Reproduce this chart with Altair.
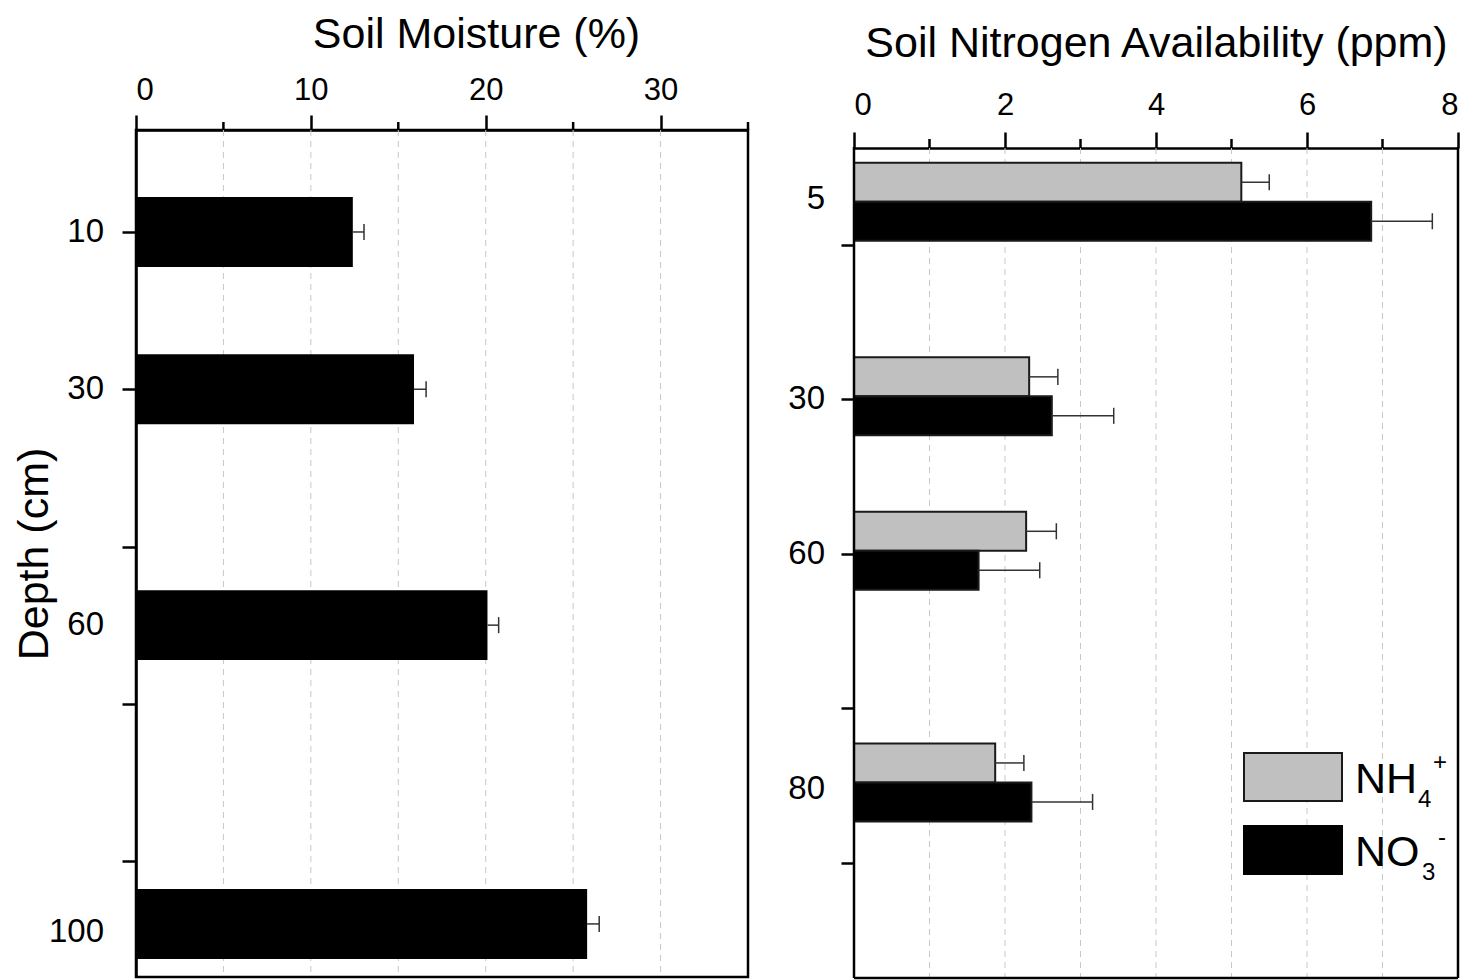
import altair as alt
import pandas as pd

FONT = "Liberation Sans"

# ---------------- Left panel: soil moisture ----------------
moist_labels = ["10", "30", "60", "100"]
moist_pos = [10, 30, 60, 98]          # bar centre on the depth axis
moist_label_pos = [10, 30, 60, 99]    # label centre on the depth axis
moist_mean = [12.4, 15.9, 20.1, 25.8]
moist_se = [0.64, 0.69, 0.64, 0.69]
moist_ticks = [10, 30, 50, 70, 90]
moist_x_major = [0, 10, 20, 30]
moist_x_minor = [5, 15, 25, 35]
moist_grid = [5, 10, 15, 20, 25, 30]

# ---------------- Right panel: soil nitrogen ----------------
n_labels = ["5", "30", "60", "80"]
n_group_pos = [0.72, 1.98, 2.98, 4.48]
n_label_pos = [0.70, 2.00, 3.00, 4.52]
nh4_mean = [5.13, 2.32, 2.28, 1.87]
nh4_se = [0.37, 0.38, 0.40, 0.38]
no3_mean = [6.85, 2.62, 1.65, 2.35]
no3_se = [0.81, 0.82, 0.81, 0.81]
n_ticks = [1, 2, 3, 4, 5]
n_x_major = [0, 2, 4, 6, 8]
n_x_minor = [1, 3, 5, 7]
n_grid = [1, 2, 3, 4, 5, 6, 7]

species = ["NH4", "NO3"]
species_colors = ["#c0c0c0", "#000000"]

# half thickness of bars / caps (in axis units)
L_HALF = 4.45
L_CAP = 1.02
R_BAR = 0.2524
R_CAP = 0.052

left_df = pd.DataFrame({
    "label": moist_labels, "pos": moist_pos, "mean": moist_mean, "se": moist_se,
})
left_df["y0"] = left_df["pos"] - L_HALF
left_df["y1"] = left_df["pos"] + L_HALF
left_df["hi"] = left_df["mean"] + left_df["se"]
left_df["c0"] = left_df["pos"] - L_CAP
left_df["c1"] = left_df["pos"] + L_CAP
left_df["zero"] = 0.0
left_lab = pd.DataFrame({"label": moist_labels, "pos": moist_label_pos})

rows = []
for i, lab in enumerate(n_labels):
    for sp, m, s, sign in (("NH4", nh4_mean[i], nh4_se[i], -1), ("NO3", no3_mean[i], no3_se[i], 1)):
        p = n_group_pos[i]
        y0 = p if sign > 0 else p - R_BAR
        y1 = p + R_BAR if sign > 0 else p
        mid = (y0 + y1) / 2
        rows.append({"label": lab, "species": sp, "mean": m, "se": s, "hi": m + s,
                     "y0": y0, "y1": y1, "mid": mid, "c0": mid - R_CAP, "c1": mid + R_CAP,
                     "zero": 0.0})
right_df = pd.DataFrame(rows)
right_lab = pd.DataFrame({"label": n_labels, "pos": n_label_pos})

AX = dict(labelFont=FONT, titleFont=FONT, labelColor="black", titleColor="black",
          tickColor="black", domainColor="black", domainWidth=2.5, tickWidth=2.5,
          grid=False, titleFontWeight="normal")

# ---------- left panel ----------
LW, LH = 612, 847
lx = alt.Scale(domain=[0, 35], nice=False, zero=False)
ly = alt.Scale(domain=[-2.97, 104.75], nice=False, zero=False, reverse=True)
lx_axis = alt.Axis(orient="top", values=moist_x_major, title="Soil Moisture (%)",
                   titleFontSize=43, titlePadding=18, titleX=340, titleAlign="center",
                   labelFontSize=31, labelPadding=9, tickSize=15, **AX)
ly_axis = alt.Axis(values=moist_ticks, labels=False, tickSize=14, title="Depth (cm)",
                   titleFontSize=43, titlePadding=64, **AX)

l_grid = alt.Chart(pd.DataFrame({"g": moist_grid})).mark_rule(
    color="#c8c8c8", strokeWidth=1, strokeDash=[6, 5]
).encode(x=alt.X("g:Q", scale=lx, axis=lx_axis))

l_minor = alt.Chart(pd.DataFrame({"g": moist_x_minor})).mark_rule(
    color="black", strokeWidth=2.5
).encode(x=alt.X("g:Q", scale=lx, axis=lx_axis), y=alt.value(0), y2=alt.value(-8))

l_bars = alt.Chart(left_df).mark_rect(color="black").encode(
    x=alt.X("zero:Q", scale=lx, axis=lx_axis), x2="mean:Q",
    y=alt.Y("y0:Q", scale=ly, axis=ly_axis), y2="y1:Q",
)
l_err = alt.Chart(left_df).mark_rule(color="#333333", strokeWidth=1.5).encode(
    x=alt.X("mean:Q", scale=lx, axis=lx_axis), x2="hi:Q",
    y=alt.Y("pos:Q", scale=ly, axis=ly_axis),
)
l_cap = alt.Chart(left_df).mark_rule(color="#333333", strokeWidth=1.5).encode(
    x=alt.X("hi:Q", scale=lx, axis=lx_axis),
    y=alt.Y("c0:Q", scale=ly, axis=ly_axis), y2="c1:Q",
)
l_text = alt.Chart(left_lab).mark_text(
    align="right", baseline="middle", fontSize=33, font=FONT, color="black"
).encode(x=alt.value(-32), y=alt.Y("pos:Q", scale=ly, axis=ly_axis), text="label:N")

left = alt.layer(l_grid, l_minor, l_bars, l_err, l_cap, l_text).properties(
    width=LW, height=LH, view=alt.ViewBackground(stroke="black", strokeWidth=2.5))

# ---------- right panel ----------
# its frame starts DROP px below the shared top edge of the two panels
RW, RH, DROP = 604, 848, 18
R_TOP = 0.372 - DROP / 154.44
rx = alt.Scale(domain=[0, 8], nice=False, zero=False)
ry = alt.Scale(domain=[R_TOP, R_TOP + RH / 154.44], nice=False, zero=False, reverse=True)
rx_axis = alt.Axis(orient="top", values=n_x_major, title="Soil Nitrogen Availability (ppm)",
                   titleFontSize=43, titlePadding=24, labelFontSize=31, labelPadding=11,
                   tickSize=16, offset=-DROP, **AX)
ry_axis = alt.Axis(values=n_ticks, labels=False, tickSize=13, title=None, domain=False, **AX)

r_grid = alt.Chart(pd.DataFrame({"g": n_grid})).mark_rule(
    color="#c8c8c8", strokeWidth=1, strokeDash=[6, 5]
).encode(x=alt.X("g:Q", scale=rx, axis=rx_axis), y=alt.value(DROP), y2=alt.value(RH))

r_minor = alt.Chart(pd.DataFrame({"g": n_x_minor})).mark_rule(
    color="black", strokeWidth=2.5
).encode(x=alt.X("g:Q", scale=rx, axis=rx_axis), y=alt.value(DROP), y2=alt.value(DROP - 9))

r_bars = alt.Chart(right_df).mark_rect(stroke="#1a1a1a", strokeWidth=2).encode(
    x=alt.X("zero:Q", scale=rx, axis=rx_axis), x2="mean:Q",
    y=alt.Y("y0:Q", scale=ry, axis=ry_axis), y2="y1:Q",
    fill=alt.Fill("species:N", scale=alt.Scale(domain=species, range=species_colors),
                  legend=None),
)
r_err = alt.Chart(right_df).mark_rule(color="#333333", strokeWidth=1.5).encode(
    x=alt.X("mean:Q", scale=rx, axis=rx_axis), x2="hi:Q",
    y=alt.Y("mid:Q", scale=ry, axis=ry_axis),
)
r_cap = alt.Chart(right_df).mark_rule(color="#333333", strokeWidth=1.5).encode(
    x=alt.X("hi:Q", scale=rx, axis=rx_axis),
    y=alt.Y("c0:Q", scale=ry, axis=ry_axis), y2="c1:Q",
)
r_text = alt.Chart(right_lab).mark_text(
    align="right", baseline="middle", fontSize=33, font=FONT, color="black"
).encode(x=alt.value(-29), y=alt.Y("pos:Q", scale=ry, axis=ry_axis), text="label:N")

# frame of the right panel (left, right, bottom edges)
one = pd.DataFrame({"k": [0]})
frame_l = alt.Chart(one).mark_rule(color="black", strokeWidth=2.5).encode(
    x=alt.value(0), y=alt.value(DROP - 1), y2=alt.value(RH))
frame_r = alt.Chart(one).mark_rule(color="black", strokeWidth=2.5).encode(
    x=alt.value(RW), y=alt.value(DROP - 1), y2=alt.value(RH))
frame_b = alt.Chart(one).mark_rule(color="black", strokeWidth=2.5).encode(
    x=alt.value(0), x2=alt.value(RW), y=alt.value(RH))

# ---------- legend (drawn as guide marks) ----------
leg_nh4_box = alt.Chart(one).mark_rect(
    fill="#c0c0c0", stroke="#1a1a1a", strokeWidth=2
).encode(x=alt.value(390), x2=alt.value(488), y=alt.value(623), y2=alt.value(671))
leg_no3_box = alt.Chart(one).mark_rect(
    fill="black", stroke="black", strokeWidth=2
).encode(x=alt.value(390), x2=alt.value(488), y=alt.value(696), y2=alt.value(744))


def leg_text(txt, x, y, size, baseline="alphabetic"):
    return alt.Chart(one).mark_text(
        align="left", baseline=baseline, fontSize=size, font=FONT, color="black"
    ).encode(x=alt.value(x), y=alt.value(y), text=alt.value(txt))


legend_layers = [
    leg_nh4_box, leg_no3_box,
    leg_text("NH", 501, 663, 43), leg_text("4", 564, 677, 24), leg_text("+", 579, 633, 24, "middle"),
    leg_text("NO", 501, 736, 43), leg_text("3", 568, 750, 24), leg_text("-", 584, 708, 24, "middle"),
]

right = alt.layer(
    r_grid, r_minor, r_bars, r_err, r_cap, r_text, frame_l, frame_r, frame_b, *legend_layers
).properties(width=RW, height=RH, view=alt.ViewBackground(stroke="transparent"))

chart = alt.hconcat(left, right, spacing=36).properties(
    padding={"left": 4, "top": 3, "right": 4, "bottom": 0}
)

chart.save("out.html", embed_options={"renderer": "svg", "actions": False})
